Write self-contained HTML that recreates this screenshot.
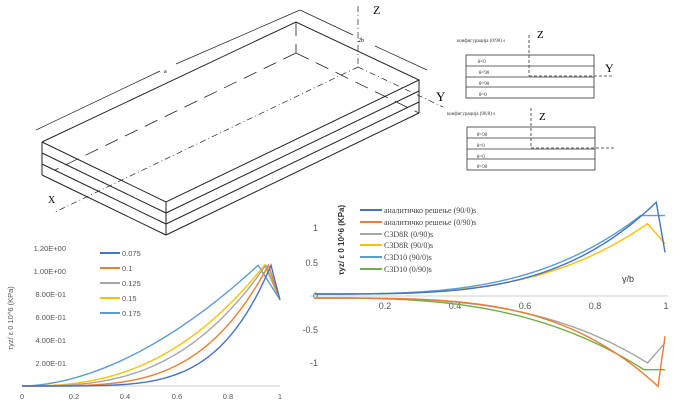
<!DOCTYPE html>
<html><head><meta charset="utf-8"><style>
html,body{margin:0;padding:0;background:#fff;}
svg{display:block;font-family:"Liberation Sans",sans-serif;}
.s{font-family:"Liberation Serif","DejaVu Serif",serif;}
</style></head><body>
<svg id="c" width="680" height="420" viewBox="0 0 680 420" xmlns="http://www.w3.org/2000/svg">
<rect width="680" height="420" fill="#fff"/>
<!-- plate -->
<g stroke="#222" fill="none" stroke-width="1">
<polyline points="42,142 296,22 419,80 166,202 42,142"/>
<line x1="42" y1="153" x2="166" y2="213"/><line x1="42" y1="164" x2="166" y2="224"/><line x1="42" y1="175" x2="166" y2="235"/>
<line x1="166" y1="213" x2="419" y2="91"/><line x1="166" y1="224" x2="419" y2="102"/><line x1="166" y1="235" x2="419" y2="113"/>
<line x1="42" y1="142" x2="42" y2="175"/><line x1="166" y1="202" x2="166" y2="235"/><line x1="419" y1="80" x2="419" y2="113"/>
<g stroke-dasharray="14,8" stroke-width="0.8"><line x1="296" y1="22" x2="296" y2="53"/><line x1="296" y1="53" x2="55" y2="170"/><line x1="296" y1="53" x2="419" y2="113"/></g>
<g stroke-dasharray="6,3,1,3" stroke-width="0.7"><line x1="358" y1="6" x2="358" y2="67"/><line x1="358" y1="67" x2="55" y2="212"/><line x1="358" y1="67" x2="443" y2="107"/></g>
<g stroke-width="0.7"><line x1="36" y1="130" x2="160" y2="71"/><line x1="176" y1="64" x2="300" y2="10"/><line x1="300" y1="10" x2="353" y2="35"/><line x1="375" y1="46" x2="427" y2="70"/></g>
</g>
<text x="164" y="73" font-size="6" class="s">a</text><text x="358" y="42" font-size="6" class="s">2b</text>
<text x="373" y="14" font-size="12" class="s">Z</text><text x="436" y="101" font-size="13" class="s">Y</text><text x="48" y="203" font-size="10" class="s">X</text>
<!-- configs -->
<g font-size="5" fill="#333" class="s">
<text x="457" y="42">конфигурација (0/90) s</text>
<text x="447" y="115">конфигурација (90/0) s</text>
<text x="478" y="63">θ=0</text><text x="479" y="74">θ=90</text><text x="479" y="85">θ=90</text><text x="479" y="96">θ=0</text>
<text x="477" y="136">θ=90</text><text x="477" y="147">θ=0</text><text x="477" y="158">θ=0</text><text x="477" y="168">θ=90</text>
</g>
<g stroke="#333" fill="none" stroke-width="0.8">
<rect x="466" y="55" width="128" height="43"/><line x1="466" y1="66" x2="594" y2="66"/><line x1="466" y1="77" x2="594" y2="77"/><line x1="466" y1="87" x2="594" y2="87"/>
<rect x="467" y="127" width="128" height="43"/><line x1="467" y1="138" x2="595" y2="138"/><line x1="467" y1="149" x2="595" y2="149"/><line x1="467" y1="159" x2="595" y2="159"/>
<g stroke-dasharray="3,2"><line x1="529" y1="35" x2="529" y2="76"/><line x1="529" y1="76" x2="614" y2="76"/><line x1="531" y1="108" x2="531" y2="148"/><line x1="531" y1="148" x2="614" y2="148"/></g>
</g>
<text x="537" y="38" font-size="11" class="s">Z</text><text x="605" y="72" font-size="12" class="s">Y</text><text x="539" y="120" font-size="11" class="s">Z</text>
<!-- left chart -->
<line x1="22" y1="386" x2="280" y2="386" stroke="#ccc"/>
<g font-size="7.5" fill="#555" text-anchor="end">
<text x="66" y="251">1.20E+00</text><text x="66" y="274">1.00E+00</text><text x="66" y="297">8.00E-01</text><text x="66" y="320">6.00E-01</text><text x="66" y="343">4.00E-01</text><text x="66" y="366">2.00E-01</text></g>
<g font-size="7.5" fill="#555" text-anchor="middle">
<text x="22" y="399">0</text><text x="74" y="399">0.2</text><text x="125" y="399">0.4</text><text x="177" y="399">0.6</text><text x="228" y="399">0.8</text><text x="280" y="399">1</text></g>
<text transform="translate(13,318) rotate(-90)" font-size="7.5" fill="#555" text-anchor="middle">τyz/ ε 0 10^6 (KPa)</text>
<g font-size="7.5" fill="#555">
<line x1="100" y1="253" x2="120" y2="253" stroke="#4472c4" stroke-width="2"/><text x="122" y="256">0.075</text>
<line x1="100" y1="268" x2="120" y2="268" stroke="#ed7d31" stroke-width="2"/><text x="122" y="271">0.1</text>
<line x1="100" y1="283" x2="120" y2="283" stroke="#a5a5a5" stroke-width="2"/><text x="122" y="286">0.125</text>
<line x1="100" y1="298" x2="120" y2="298" stroke="#ffc000" stroke-width="2"/><text x="122" y="301">0.15</text>
<line x1="100" y1="313" x2="120" y2="313" stroke="#5b9bd5" stroke-width="2"/><text x="122" y="316">0.175</text></g>
<g id="L" fill="none" stroke-width="1.4"></g>
<!-- right chart -->
<line x1="310" y1="296" x2="668" y2="296" stroke="#ccc"/>
<g font-size="9" fill="#555" text-anchor="end">
<text x="318" y="231">1</text><text x="318" y="266">0.5</text><text x="318" y="299">0</text><text x="318" y="333">-0.5</text><text x="318" y="366">-1</text></g>
<g font-size="9" fill="#555" text-anchor="middle">
<text x="385" y="309">0.2</text><text x="455" y="309">0.4</text><text x="525" y="309">0.6</text><text x="595" y="309">0.8</text><text x="666" y="309">1</text></g>
<text x="628" y="282" font-size="9" fill="#333" text-anchor="middle">γ/b</text>
<text transform="translate(344,240) rotate(-90)" font-size="8" fill="#333" text-anchor="middle" font-weight="bold">τyz/ ε 0 10^6 (KPa)</text>
<g font-size="8" fill="#444" class="s">
<line x1="360" y1="210" x2="382" y2="210" stroke="#4472c4" stroke-width="2"/><text x="384" y="213">аналитичко решење (90/0)s</text>
<line x1="360" y1="222" x2="382" y2="222" stroke="#ed7d31" stroke-width="2"/><text x="384" y="225">аналитичко решење (0/90)s</text>
<line x1="360" y1="234" x2="382" y2="234" stroke="#a5a5a5" stroke-width="2"/><text x="384" y="237">C3D8R (0/90)s</text>
<line x1="360" y1="245" x2="382" y2="245" stroke="#ffc000" stroke-width="2"/><text x="384" y="248">C3D8R (90/0)s</text>
<line x1="360" y1="257" x2="382" y2="257" stroke="#5b9bd5" stroke-width="2"/><text x="384" y="260">C3D10 (90/0)s</text>
<line x1="360" y1="269" x2="382" y2="269" stroke="#70ad47" stroke-width="2"/><text x="384" y="272">C3D10 (0/90)s</text></g>
<g id="R" fill="none" stroke-width="1.4"></g>
</svg>
<script>
function path(g,col,f,x0,x1,X,Y){var d="";for(var i=0;i<=200;i++){var x=x0+(x1-x0)*i/200;var v=f(x);d+=(i?"L":"M")+X(x).toFixed(1)+","+Y(v).toFixed(1);}
var p=document.createElementNS("http://www.w3.org/2000/svg","path");p.setAttribute("d",d);p.setAttribute("stroke",col);document.getElementById(g).appendChild(p);}
function lc(xp,n){return function(x){return x<xp?1.05*Math.pow(x/xp,n):1.05-(x-xp)/(1-xp)*0.3;};}
var LX=function(x){return 22+258*x},LY=function(v){return 386-115*v};
[["#5b9bd5",.915,1.8],["#ffc000",.94,2.5],["#a5a5a5",.945,2.9],["#ed7d31",.955,3.8],["#4472c4",.965,4.9]].forEach(function(c){path("L",c[0],lc(c[1],c[2]),0,1,LX,LY);});
var RX=function(x){return 315+350*x},RY=function(v){return 296-67*v};
function rc(pk,xp,n,end,flat){return function(x){if(x<xp)return 0.03+(pk-0.03)*Math.pow(x/xp,n);return flat?pk:pk+(end-pk)*(x-xp)/(1-xp);};}
path("R","#ffc000",rc(1.08,.95,3.3,0.78),0,1,RX,RY);
path("R","#5b9bd5",rc(1.2,.93,3.2,1.2,1),0,1,RX,RY);
path("R","#4472c4",rc(1.4,.975,3.6,0.65),0,1,RX,RY);
path("R","#a5a5a5",function(x){return -rc(1.0,.95,3.2,0.7)(x)},0,1,RX,RY);
path("R","#70ad47",function(x){return -rc(1.1,.94,2.9,1.1,1)(x)},0,1,RX,RY);
path("R","#ed7d31",function(x){return -rc(1.35,.98,3.6,0.6)(x)},0,1,RX,RY);
</script>
</body></html>
